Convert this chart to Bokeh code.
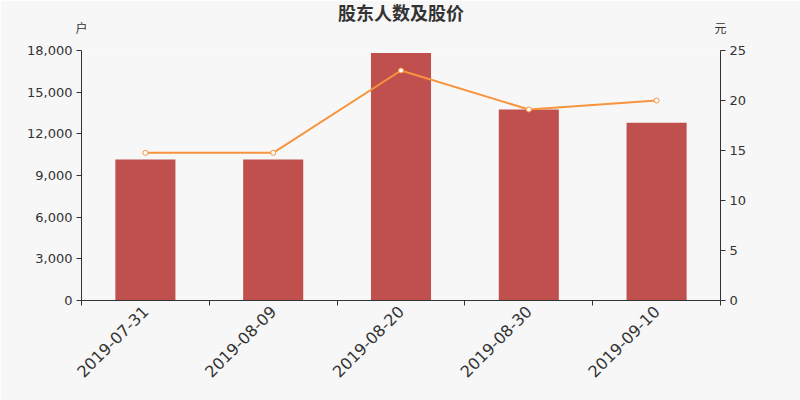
from bokeh.plotting import figure
from bokeh.models import Range1d, LinearAxis, FixedTicker, NumeralTickFormatter, Title, ColumnDataSource
from bokeh.embed import file_html
from bokeh.resources import INLINE

dates = ["2019-07-31", "2019-08-09", "2019-08-20", "2019-08-30", "2019-09-10"]
holders = [10150, 10150, 17820, 13760, 12790]
prices = [14.77, 14.77, 23.0, 19.1, 20.0]
left_ticks = [0, 3000, 6000, 9000, 12000, 15000, 18000]
right_ticks = [0, 5, 10, 15, 20, 25]
title_text = "股东人数及股价"
left_unit = "户"
right_unit = "元"

xs = [i + 0.5 for i in range(len(dates))]
src = ColumnDataSource(dict(x=xs, h=holders, p=prices))

BG = "#f7f7f7"
AX = "#333333"
CJK = "Noto Sans CJK SC"

p = figure(width=800, height=400, output_backend="svg", toolbar_location=None,
           x_range=Range1d(0, len(dates)), y_range=Range1d(0, 18000),
           background_fill_color=BG, border_fill_color=BG,
           min_border_left=81, min_border_right=80, min_border_top=50, min_border_bottom=100)
p.outline_line_color = None
p.grid.visible = False
p.extra_y_ranges = {"price": Range1d(0, 25)}

p.vbar(x="x", top="h", width=0.47, source=src, fill_color="#c0504d", line_color=None)
p.line(x="x", y="p", source=src, y_range_name="price", line_color="#f7943e", line_width=2)
p.scatter(x="x", y="p", source=src, y_range_name="price", size=5, fill_color="white",
          line_color="#f7943e", line_width=1)

# x axis
xa = p.xaxis[0]
xa.ticker = FixedTicker(ticks=xs, minor_ticks=list(range(len(dates) + 1)))
xa.major_label_overrides = {x: d for x, d in zip(xs, dates)}
xa.major_label_orientation = 0.785398
xa.major_tick_out = 0
xa.major_tick_in = 0
xa.minor_tick_out = 5
xa.minor_tick_in = 0
xa.major_label_text_font_size = "16px"
xa.major_label_text_font = "DejaVu Sans"
xa.major_label_text_color = AX
xa.axis_line_color = AX
xa.minor_tick_line_color = AX
xa.major_label_standoff = 3

ya = p.yaxis[0]
ya.ticker = FixedTicker(ticks=left_ticks)
ya.formatter = NumeralTickFormatter(format="0,0")
ya.minor_tick_line_color = None
ya.major_tick_out = 5
ya.major_tick_in = 0
ya.major_label_text_font_size = "13px"
ya.major_label_text_font = "DejaVu Sans"
ya.major_label_text_color = AX
ya.axis_line_color = AX
ya.major_tick_line_color = AX
ya.major_label_standoff = 4

ra = LinearAxis(y_range_name="price", ticker=FixedTicker(ticks=right_ticks))
ra.minor_tick_line_color = None
ra.major_tick_out = 5
ra.major_tick_in = 0
ra.major_label_text_font_size = "13px"
ra.major_label_text_font = "DejaVu Sans"
ra.major_label_text_color = AX
ra.axis_line_color = AX
ra.major_tick_line_color = AX
ra.major_label_standoff = 4
p.add_layout(ra, "right")

# unit labels: an invisible top axis whose two tick labels sit over the y axes
ua = LinearAxis(ticker=FixedTicker(ticks=[0, len(dates)], minor_ticks=[]))
ua.major_label_overrides = {0: left_unit, len(dates): right_unit}
ua.axis_line_color = None
ua.major_tick_line_color = None
ua.minor_tick_line_color = None
ua.major_tick_out = 0
ua.major_tick_in = 0
ua.major_label_standoff = 15
ua.major_label_text_font = CJK
ua.major_label_text_font_size = "12px"
ua.major_label_text_color = AX
p.add_layout(ua, "above")

p.add_layout(Title(text=title_text, align="center", vertical_align="middle", text_font=CJK,
                   text_font_size="18px", text_font_style="bold", text_color=AX,
                   standoff=-21), "above")

open("out.html", "w").write(file_html(p, INLINE))
